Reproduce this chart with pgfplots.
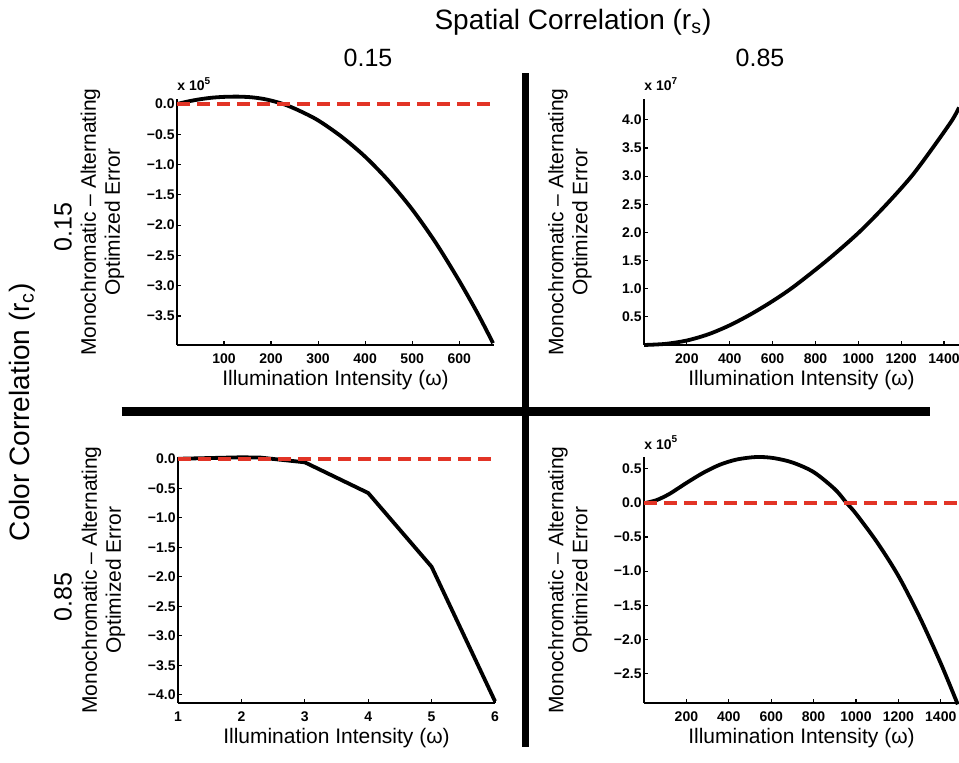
\documentclass[border=0pt]{standalone}
\usepackage{pgfplots}
\pgfplotsset{compat=1.18}
\usepackage{fontspec}
\setmainfont{Liberation Sans}
\definecolor{dashred}{RGB}{226,52,38}

\tikzset{
  scalelabel/.style={anchor=base west, inner sep=0pt, font=\fontsize{7}{8}\selectfont\bfseries, yshift=4pt},
}
\pgfplotsset{
  panel/.style={
    scale only axis, width=158.5pt, height=123pt, anchor=south west,
    axis x line*=bottom, axis y line*=left,
    axis line style={line width=0.6pt},
    tick style={black, line width=0.6pt}, major tick length=2pt, tick align=inside,
    /pgf/number format/assume math mode=true,
    /pgf/number format/1000 sep={},
    ticklabel style={font=\fontsize{7}{8}\selectfont\bfseries},
    yticklabel style={inner sep=1pt},
    xticklabel style={yshift=-1pt},
    scaled ticks=false, clip=false,
    xlabel={Illumination Intensity (ω)},
    ylabel={Monochromatic – Alternating\\Optimized Error},
    label style={font=\fontsize{10.5}{12}\selectfont},
    xlabel style={at={(axis description cs:0.5,-0.142)}, anchor=center},
    ylabel style={align=center, at={(axis description cs:-0.235,0.5)}, anchor=center},
  },
  curve/.style={black, line width=1.9pt, smooth, tension=0.5},
  zero/.style={dashred, line width=1.9pt, dash pattern=on 6.5pt off 3.5pt},
}

\begin{document}
\begin{tikzpicture}
\path[use as bounding box] (0pt,0pt) rectangle (479.5pt,381pt);

% top left: r_s = 0.15, r_c = 0.15
\begin{axis}[panel, at={(88.5pt,208.5pt)},
  xmin=0, xmax=674, ymin=-3.98, ymax=0.083,
  xtick={100,200,300,400,500,600},
  ytick={-3.5,-3,-2.5,-2,-1.5,-1,-0.5,0},
  yticklabels={−3.5,−3.0,−2.5,−2.0,−1.5,−1.0,−0.5,0.0}]
\addplot[curve] coordinates {(0,0)(25,0.045)(50,0.08)(75,0.105)(100,0.118)(130,0.122)(160,0.11)(190,0.075)(226,0)(260,-0.11)(300,-0.27)(350,-0.54)(400,-0.87)(450,-1.27)(500,-1.74)(550,-2.29)(600,-2.92)(640,-3.47)(672,-3.95)};
\addplot[zero] coordinates {(0,0)(674,0)};
\node[scalelabel] at (rel axis cs:0,1) {x 10\textsuperscript{5}};
\end{axis}

% top right: r_s = 0.85, r_c = 0.15
\begin{axis}[panel, at={(322pt,208.5pt)}, width=157.5pt,
  xmin=0, xmax=1470, ymin=0, ymax=4.37,
  xtick={200,400,600,800,1000,1200,1400},
  ytick={0.5,1,1.5,2,2.5,3,3.5,4},
  yticklabels={0.5,1.0,1.5,2.0,2.5,3.0,3.5,4.0}]
\addplot[curve] coordinates {(0,0)(100,0.02)(200,0.08)(300,0.19)(400,0.35)(500,0.55)(600,0.78)(700,1.04)(853,1.5)(1003,2.0)(1132,2.5)(1249,3.0)(1347,3.5)(1439,4.0)(1470,4.22)};
\node[scalelabel] at (rel axis cs:0,1) {x 10\textsuperscript{7}};
\end{axis}

% bottom left: r_s = 0.15, r_c = 0.85
\begin{axis}[panel, at={(89pt,29.5pt)},
  xmin=1, xmax=6, ymin=-4.14, ymax=0.03,
  xtick={1,2,3,4,5,6},
  ytick={-4,-3.5,-3,-2.5,-2,-1.5,-1,-0.5,0},
  yticklabels={−4.0,−3.5,−3.0,−2.5,−2.0,−1.5,−1.0,−0.5,0.0}]
\addplot[black, line width=1.9pt] coordinates {(1,0)(2,0.025)(2.3,0.02)(3,-0.06)(4,-0.58)(5,-1.83)(6,-4.11)};
\addplot[zero] coordinates {(1,0)(6,0)};
\end{axis}

% bottom right: r_s = 0.85, r_c = 0.85
\begin{axis}[panel, at={(322pt,29.5pt)}, width=157.5pt,
  xmin=0, xmax=1486, ymin=-2.93, ymax=0.67,
  xtick={200,400,600,800,1000,1200,1400},
  ytick={-2.5,-2,-1.5,-1,-0.5,0,0.5},
  yticklabels={−2.5,−2.0,−1.5,−1.0,−0.5,0.0,0.5}]
\addplot[curve] coordinates {(10,0)(60,0.04)(120,0.13)(200,0.29)(280,0.44)(360,0.56)(440,0.635)(530,0.67)(610,0.655)(700,0.59)(800,0.45)(900,0.2)(955,0)(1000,-0.16)(1100,-0.58)(1200,-1.07)(1300,-1.67)(1400,-2.35)(1480,-2.95)};
\addplot[zero] coordinates {(0,0)(1486,0)};
\node[scalelabel] at (rel axis cs:0,1) {x 10\textsuperscript{5}};
\end{axis}

% separators and headings
\draw[line width=3.75pt] (262.75pt,7.6pt) -- (262.75pt,344.5pt);
\draw[line width=4.5pt] (60.8pt,175.5pt) -- (465pt,175.5pt);
\node[font=\fontsize{14}{16}\selectfont] at (286.5pt,370pt) {Spatial Correlation (r\textsubscript{s})};
\node[font=\fontsize{12.5}{14}\selectfont] at (184pt,352pt) {0.15};
\node[font=\fontsize{12.5}{14}\selectfont] at (380pt,352pt) {0.85};
\node[font=\fontsize{14}{16}\selectfont, rotate=90] at (11pt,175pt) {Color Correlation (r\textsubscript{c})};
\node[font=\fontsize{12.5}{14}\selectfont, rotate=90] at (31.5pt,267.5pt) {0.15};
\node[font=\fontsize{12.5}{14}\selectfont, rotate=90] at (31.5pt,82.5pt) {0.85};
\end{tikzpicture}
\end{document}
